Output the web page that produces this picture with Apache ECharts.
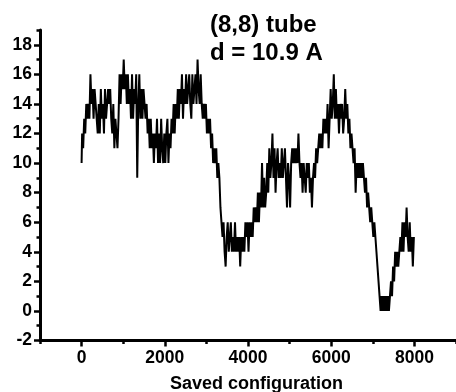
<!DOCTYPE html>
<html><head><meta charset="utf-8">
<script src="https://cdn.jsdelivr.net/npm/echarts@6/dist/echarts.min.js"></script>
<style>html,body{margin:0;padding:0;background:#fff}#c{width:456px;height:392px}</style>
</head><body><div id="c"></div>
<script>
// saved configurations sampled every 25 steps, starting at 0
const sampleStep = 25;
const values = [
10,12,11,13,12,14,13,14,13,16,
14,15,13,15,14,13,12,14,12,15,
13,14,12,15,13,14,15,14,15,13,
12,14,11,13,12,11,13,16,14,16,
15,17,15,16,14,16,14,15,13,16,
13,15,14,16,9,14,16,13,15,13,
15,14,13,14,12,13,11,13,11,12,
10,12,11,13,10,12,10,13,11,10,
12,10,12,13,10,12,11,13,12,14,
12,14,13,15,13,15,14,16,13,15,
14,16,14,15,16,14,13,16,14,15,
16,14,17,15,14,16,14,13,14,13,
14,12,13,12,13,11,12,10,11,10,
11,9,10,9,7,6,5,6,4,3,
5,6,4,5,6,4,5,4,6,4,
5,4,5,3,5,4,5,4,6,5,
6,4,6,5,6,5,7,6,7,6,
8,6,8,7,10,7,9,7,8,10,
8,11,9,10,12,9,11,8,10,11,
9,10,9,11,9,10,11,9,7,10,
9,7,10,11,10,11,10,11,10,12,
10,9,10,8,10,9,8,10,9,10,
8,9,7,9,10,9,11,10,11,12,
11,12,11,13,12,13,12,14,11,13,
15,13,14,16,13,15,13,14,12,14,
13,14,12,13,15,13,14,12,13,11,
12,11,10,11,8,10,9,10,9,10,
9,10,9,8,9,7,8,7,6,7,
6,5,6,5,4,3,2,1,0,1,
0,1,0,1,0,1,0,1,2,1,
3,2,4,3,4,3,4,5,4,6,
4,6,5,7,5,4,6,4,5,3,
5
];
const xMajorTicks = [0, 2000, 4000, 6000, 8000];
const xMinorTicks = [-1000, 1000, 3000, 5000, 7000, 9000];
const yMajorTicks = [-2, 0, 2, 4, 6, 8, 10, 12, 14, 16, 18];
const yMinorTicks = [-1, 1, 3, 5, 7, 9, 11, 13, 15, 17, 19];
const titleLines = ['(8,8) tube', 'd = 10.9 A'];
const xName = 'Saved configuration';

const points = values.map((v, i) => [i * sampleStep, v]);
const FF = '"Liberation Sans", Arial, sans-serif';
const chart = echarts.init(document.getElementById('c'), null, {renderer: 'canvas'});
const lab = {color: '#000', fontWeight: 'bold', fontSize: 17.5, fontFamily: FF, formatter: v => String(v)};
chart.setOption({
  animation: false,
  backgroundColor: '#fff',
  title: {
    text: titleLines.join('\n'), left: 210, top: 11, padding: 0,
    textStyle: {fontSize: 24, fontWeight: 'bold', lineHeight: 28.5, color: '#000', fontFamily: FF}
  },
  grid: {left: 40, right: 0, top: 30, bottom: 51.5, containLabel: false},
  xAxis: [
    {type: 'value', min: -1000, max: 9000, position: 'bottom',
     axisLine: {onZero: false, lineStyle: {color: '#000', width: 3}},
     axisTick: {customValues: xMajorTicks, length: 6, lineStyle: {color: '#000', width: 2.5}},
     axisLabel: Object.assign({customValues: xMajorTicks, margin: 9}, lab),
     splitLine: {show: false}},
    {type: 'value', min: -1000, max: 9000, position: 'bottom',
     axisLine: {show: false, onZero: false},
     axisTick: {customValues: xMinorTicks, length: 3.5, lineStyle: {color: '#000', width: 2.5}},
     axisLabel: {show: false}, splitLine: {show: false}}
  ],
  yAxis: [
    {type: 'value', min: -2, max: 19, position: 'left',
     axisLine: {onZero: false, lineStyle: {color: '#000', width: 3}},
     axisTick: {customValues: yMajorTicks, length: 6, lineStyle: {color: '#000', width: 2.5}},
     axisLabel: Object.assign({customValues: yMajorTicks, margin: 8}, lab),
     splitLine: {show: false}},
    {type: 'value', min: -2, max: 19, position: 'left',
     axisLine: {show: false, onZero: false},
     axisTick: {customValues: yMinorTicks, length: 3.5, lineStyle: {color: '#000', width: 2.5}},
     axisLabel: {show: false}, splitLine: {show: false}}
  ],
  graphic: [
    {type: 'text', x: 256.5, y: 383.7,
     style: {text: xName, font: 'bold 18px ' + FF, align: 'center', verticalAlign: 'middle', fill: '#000'}}
  ],
  series: [{
    type: 'line', data: points, xAxisIndex: 0, yAxisIndex: 0,
    step: 'middle', showSymbol: false, symbol: 'none', sampling: null,
    lineStyle: {color: '#000', width: 2, join: 'miter', cap: 'butt'}
  }]
});
</script></body></html>
